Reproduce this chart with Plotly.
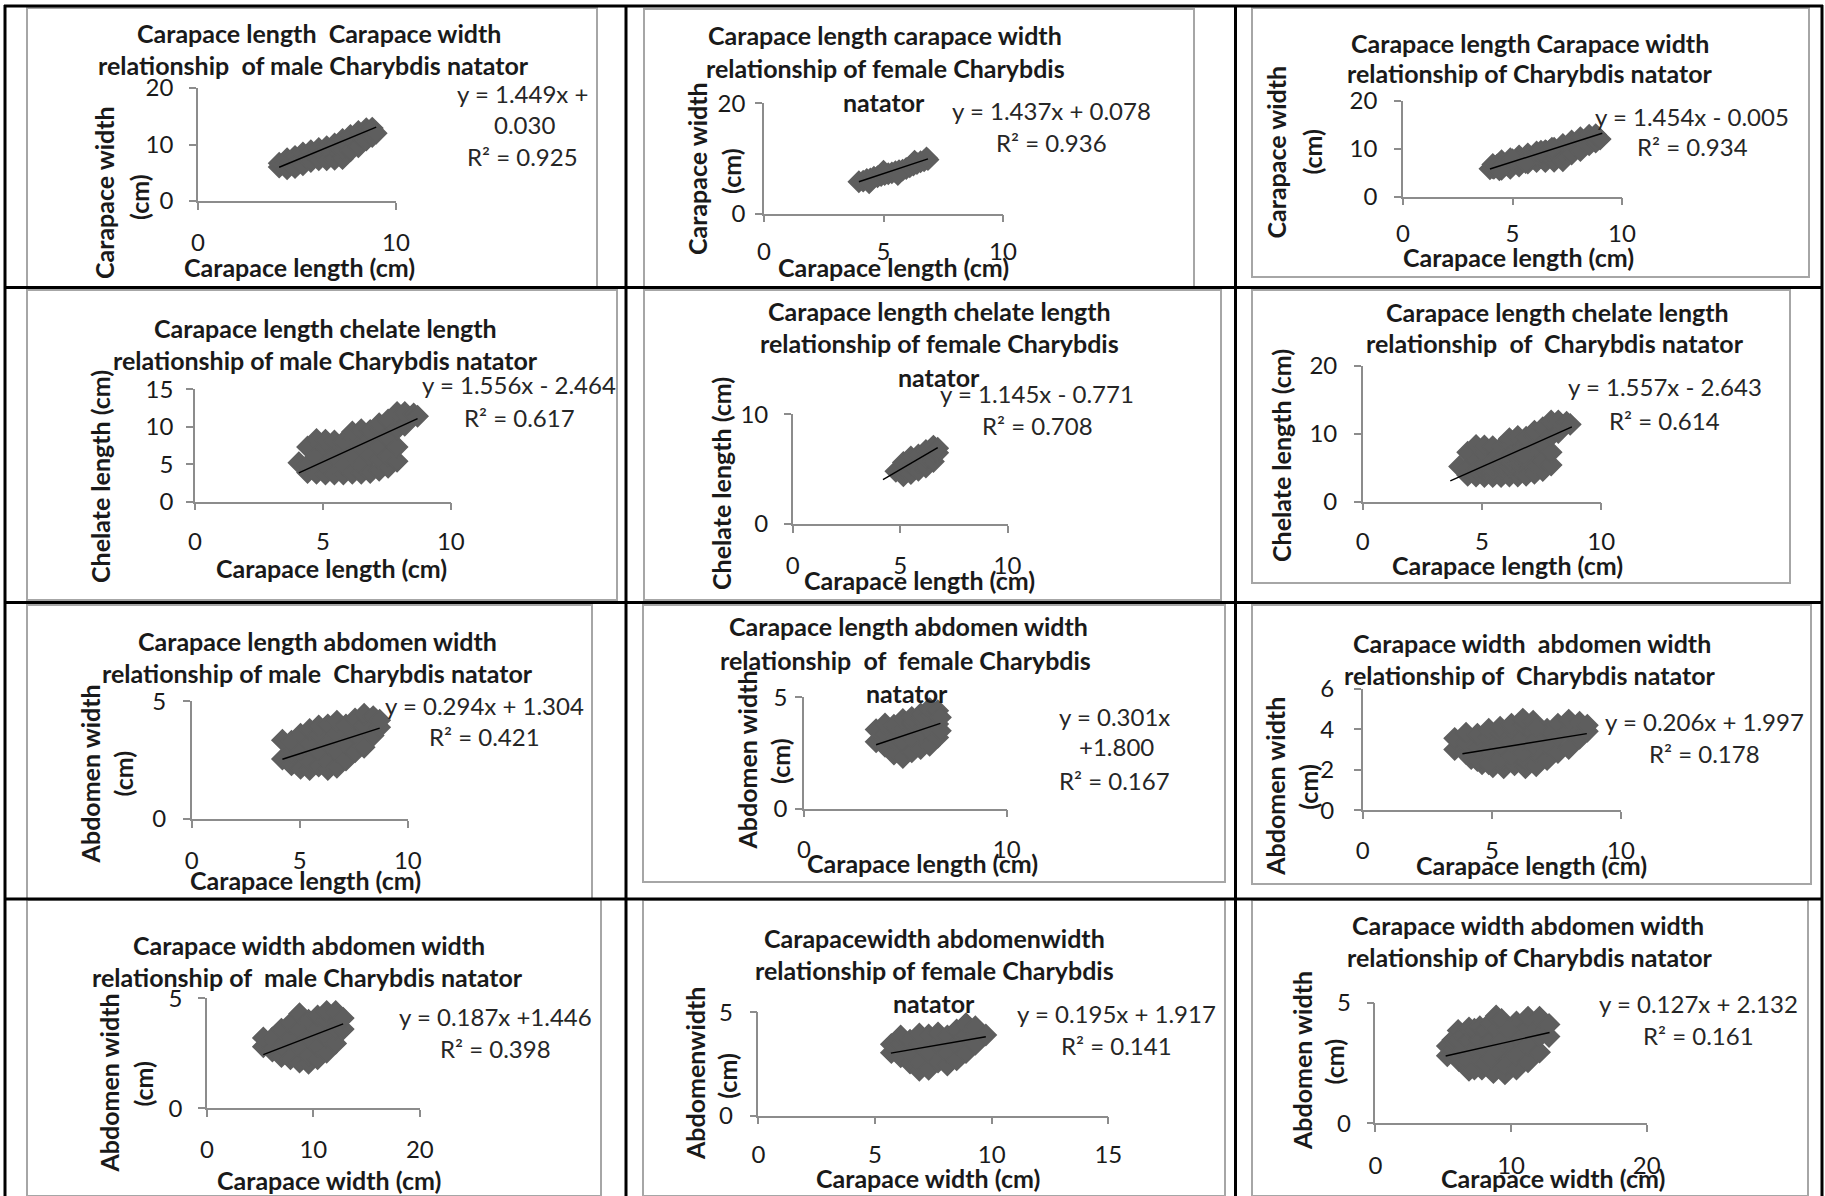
import plotly.graph_objects as go

W, H = 1825, 1196

# ---------------- data (cm), read from the scatter clouds ----------------
# male: carapace length vs carapace width
male_cl_cw_x = [4.1, 4.1, 4.3, 4.5, 4.5, 4.7, 4.9, 4.9, 5.1, 5.3, 5.3, 5.5, 5.7, 5.7, 5.9, 6.1, 6.1, 6.3, 6.5, 6.5,
                6.7, 6.9, 6.9, 7.1, 7.3, 7.3, 7.3, 7.5, 7.7, 7.7, 7.9, 8.1, 8.1, 8.3, 8.5, 8.5, 8.7, 8.8, 8.8, 9.0]
male_cl_cw_y = [6.0, 6.7, 6.6, 5.7, 7.5, 6.7, 5.9, 7.9, 7.1, 6.4, 8.5, 7.6, 7.0, 8.9, 8.1, 7.3, 9.3, 8.4, 7.3, 9.6,
                8.8, 7.4, 10.1, 8.5, 7.5, 9.0, 10.9, 10.0, 8.9, 11.6, 10.4, 9.6, 12.3, 11.1, 10.8, 12.8, 12.0, 11.4, 12.9, 12.0]
# female: carapace length vs carapace width
female_cl_cw_x = [3.97, 4.15, 4.3, 4.45, 4.6, 4.75, 4.9, 5.05, 5.2, 5.35, 5.5, 5.65, 5.8, 5.95, 6.1, 6.25, 6.4, 6.55,
                  6.7, 6.86, 4.4, 5.0, 5.6, 6.3, 6.8]
female_cl_cw_y = [5.8, 5.9, 6.2, 6.3, 6.6, 6.7, 6.9, 7.1, 7.25, 7.4, 7.6, 7.8, 7.9, 8.2, 8.5, 8.8, 9.1, 9.4,
                  9.6, 9.8, 5.6, 7.7, 7.1, 9.5, 10.1]
# male: carapace length vs chelate length
male_cl_chl_x = [4.06, 4.4, 4.4, 4.4, 4.75, 4.75, 4.75, 5.1, 5.1, 5.1, 5.1, 5.45, 5.45, 5.45, 5.8, 5.8, 5.8, 5.8,
                 6.15, 6.15, 6.15, 6.15, 6.5, 6.5, 6.5, 6.5, 6.85, 6.85, 6.85, 6.85, 7.2, 7.2, 7.2, 7.2, 7.2,
                 7.55, 7.55, 7.55, 7.55, 7.9, 7.9, 7.9, 7.9, 8.2, 8.2, 8.55, 8.7]
male_cl_chl_y = [5.2, 3.9, 4.9, 7.3, 3.8, 6.1, 8.3, 3.7, 4.9, 7.3, 8.2, 3.7, 6.1, 8.1, 3.7, 4.9, 7.3, 8.0,
                 3.8, 6.1, 8.5, 9.3, 3.8, 4.9, 7.3, 9.6, 3.9, 6.1, 8.5, 9.5, 4.2, 5.7, 7.3, 9.7, 10.4,
                 4.6, 6.1, 8.5, 10.9, 5.4, 7.3, 9.7, 11.9, 10.2, 11.9, 11.7, 11.4]
# female: carapace length vs chelate length
female_cl_chl_x = [4.8, 5.15, 5.15, 5.15, 5.5, 5.5, 5.5, 5.85, 5.85, 5.85, 6.2, 6.2, 6.2, 6.55, 6.55, 6.55, 6.75, 6.75]
female_cl_chl_y = [4.8, 4.4, 5.0, 5.6, 4.6, 5.4, 6.1, 4.9, 5.6, 6.3, 5.2, 5.9, 6.7, 5.7, 6.4, 7.1, 6.5, 6.9]
# male: carapace length vs abdomen width
male_cl_aw_x = [4.2, 4.2, 4.62, 4.62, 4.62, 5.04, 5.04, 5.04, 5.46, 5.46, 5.46, 5.46, 5.88, 5.88, 5.88, 5.88,
                6.3, 6.3, 6.3, 6.3, 6.72, 6.72, 6.72, 6.72, 7.14, 7.14, 7.14, 7.56, 7.56, 7.56,
                7.98, 7.98, 7.98, 8.4, 8.4, 8.7, 8.7]
male_cl_aw_y = [2.55, 3.35, 2.3, 2.8, 3.3, 2.15, 2.85, 3.6, 2.1, 2.45, 3.2, 3.8, 2.25, 2.85, 3.6, 3.95,
                2.1, 2.45, 3.2, 4.0, 2.2, 2.85, 3.6, 4.15, 2.5, 3.2, 4.0, 2.85, 3.6, 4.25,
                3.05, 3.95, 4.45, 3.55, 4.35, 3.9, 4.2]
# female: carapace length vs abdomen width
female_cl_aw_x = [3.56, 3.56, 4.0, 4.0, 4.0, 4.44, 4.44, 4.44, 4.88, 4.88, 4.88, 4.88, 5.32, 5.32, 5.32, 5.32,
                  5.76, 5.76, 5.76, 5.76, 6.2, 6.2, 6.2, 6.2, 6.6, 6.6, 6.6, 6.73, 6.73]
female_cl_aw_y = [3.0, 3.55, 2.8, 3.35, 3.8, 2.45, 3.1, 3.75, 2.3, 3.0, 3.6, 4.0, 2.55, 3.2, 3.85, 4.1,
                  2.7, 3.4, 4.05, 4.25, 2.85, 3.5, 4.2, 4.5, 3.2, 3.8, 4.4, 3.5, 4.1]
# male: carapace width vs abdomen width
male_cw_aw_x = [5.3, 5.3, 6.15, 6.15, 7.0, 7.0, 7.0, 7.85, 7.85, 7.85, 8.7, 8.7, 8.7, 8.7, 9.55, 9.55, 9.55, 9.55,
                10.4, 10.4, 10.4, 10.4, 11.25, 11.25, 11.25, 11.25, 12.1, 12.1, 12.1, 12.8, 12.8]
male_cw_aw_y = [2.8, 3.2, 2.6, 3.2, 2.35, 2.8, 3.6, 2.25, 3.2, 3.85, 2.1, 2.8, 3.6, 4.3, 2.05, 2.4, 3.2, 4.0,
                2.25, 2.8, 3.6, 4.2, 2.55, 3.2, 4.0, 4.4, 2.95, 3.6, 4.4, 3.6, 4.1]
# female: carapace width vs abdomen width
female_cw_aw_x = [5.7, 5.7, 6.1, 6.1, 6.1, 6.5, 6.5, 6.5, 6.9, 6.9, 6.9, 6.9, 7.3, 7.3, 7.3, 7.7, 7.7, 7.7,
                  8.1, 8.1, 8.1, 8.5, 8.5, 8.5, 8.9, 8.9, 8.9, 9.3, 9.3, 9.75]
female_cw_aw_y = [3.05, 3.45, 2.85, 3.45, 3.85, 2.55, 3.05, 3.65, 2.2, 2.6, 3.45, 3.95, 2.25, 3.05, 3.9, 2.6, 3.45, 4.0,
                  2.45, 3.05, 3.85, 2.7, 3.45, 4.15, 3.05, 3.9, 4.45, 3.45, 4.3, 3.9]

# pooled (male + female) samples
all_cl_cw_x = male_cl_cw_x + female_cl_cw_x
all_cl_cw_y = male_cl_cw_y + female_cl_cw_y
all_cl_chl_x = male_cl_chl_x + female_cl_chl_x
all_cl_chl_y = male_cl_chl_y + female_cl_chl_y
all_cl_aw_x = male_cl_aw_x + female_cl_aw_x
all_cl_aw_y = male_cl_aw_y + female_cl_aw_y
all_cw_aw_x = male_cw_aw_x + female_cw_aw_x
all_cw_aw_y = male_cw_aw_y + female_cw_aw_y

# linear trend lines: (slope, intercept) and x-extent
trend_coef = [(1.449, 0.030), (1.437, 0.078), (1.454, -0.005),
              (1.556, -2.464), (1.145, -0.771), (1.557, -2.643),
              (0.294, 1.304), (0.301, 1.800), (0.206, 1.997),
              (0.187, 1.446), (0.195, 1.917), (0.127, 2.132)]
trend_x = [[4.1, 9.0], [3.97, 6.86], [3.97, 9.1],
           [4.06, 8.7], [4.2, 6.75], [3.67, 8.77],
           [4.2, 8.7], [3.56, 6.73], [3.86, 8.68],
           [5.3, 12.8], [5.68, 9.75], [5.18, 12.84]]

series = [(male_cl_cw_x, male_cl_cw_y), (female_cl_cw_x, female_cl_cw_y), (all_cl_cw_x, all_cl_cw_y),
          (male_cl_chl_x, male_cl_chl_y), (female_cl_chl_x, female_cl_chl_y), (all_cl_chl_x, all_cl_chl_y),
          (male_cl_aw_x, male_cl_aw_y), (female_cl_aw_x, female_cl_aw_y), (all_cl_aw_x, all_cl_aw_y),
          (male_cw_aw_x, male_cw_aw_y), (female_cw_aw_x, female_cw_aw_y), (all_cw_aw_x, all_cw_aw_y)]

x_ranges = [[0, 10], [0, 10], [0, 10], [0, 10], [0, 10], [0, 10],
            [0, 10], [0, 10], [0, 10], [0, 20], [0, 15], [0, 20]]
y_ranges = [[0, 20], [0, 20], [0, 20], [0, 15], [0, 10], [0, 20],
            [0, 5], [0, 5], [0, 6], [0, 5], [0, 5], [0, 5]]
x_dticks = [10, 5, 5, 5, 5, 5, 5, 10, 5, 10, 5, 10]
y_dticks = [10, 20, 10, 5, 10, 10, 5, 5, 2, 5, 5, 5]

titles = [
    ["Carapace length  Carapace width", "relationship  of male Charybdis natator"],
    ["Carapace length carapace width", "relationship of female Charybdis", "natator"],
    ["Carapace length Carapace width", "relationship of Charybdis natator"],
    ["Carapace length chelate length", "relationship of male Charybdis natator"],
    ["Carapace length chelate length", "relationship of female Charybdis", "natator"],
    ["Carapace length chelate length", "relationship  of  Charybdis natator"],
    ["Carapace length abdomen width", "relationship of male  Charybdis natator"],
    ["Carapace length abdomen width", "relationship  of  female Charybdis", "natator"],
    ["Carapace width  abdomen width", "relationship of  Charybdis natator"],
    ["Carapace width abdomen width", "relationship of  male Charybdis natator"],
    ["Carapacewidth abdomenwidth", "relationship of female Charybdis", "natator"],
    ["Carapace width abdomen width", "relationship of Charybdis natator"],
]
x_titles = ["Carapace length (cm)"] * 9 + ["Carapace width (cm)"] * 3
y_titles = [["Carapace width", "(cm)"]] * 3 + [["Chelate length (cm)"]] * 3 + \
           [["Abdomen width", "(cm)"]] * 4 + [["Abdomenwidth", "(cm)"], ["Abdomen width", "(cm)"]]
equations = [
    ["y = 1.449x +", "0.030", "R² = 0.925"],
    ["y = 1.437x + 0.078", "R² = 0.936"],
    ["y = 1.454x - 0.005", "R² = 0.934"],
    ["y = 1.556x - 2.464", "R² = 0.617"],
    ["y = 1.145x - 0.771", "R² = 0.708"],
    ["y = 1.557x - 2.643", "R² = 0.614"],
    ["y = 0.294x + 1.304", "R² = 0.421"],
    ["y = 0.301x", "+1.800", "R² = 0.167"],
    ["y = 0.206x + 1.997", "R² = 0.178"],
    ["y = 0.187x +1.446", "R² = 0.398"],
    ["y = 0.195x + 1.917", "R² = 0.141"],
    ["y = 0.127x + 2.132", "R² = 0.161"],
]

# ---------------- layout geometry (pixels) ----------------
geom = [
    dict(frame=(27, 8, 597, 287), xpx=(198, 396), ypx=(201, 88), xoff=44, ygap=23,
         title=[(319, 33), (313, 65)], xlab=(299, 267), ylab=[(104, 193), (139, 197)],
         eq=[(522, 93), (524, 124), (522, 157)]),
    dict(frame=(644, 9, 1194, 287), xpx=(764, 1003), ypx=(213.7, 103.3), xoff=41, ygap=17,
         title=[(885, 35), (885, 68), (884, 102)], xlab=(893, 267), ylab=[(697, 169), (731, 171)],
         eq=[(1051, 110), (1051, 142)]),
    dict(frame=(1252, 8, 1809, 277), xpx=(1403, 1622), ypx=(196.7, 100.7), xoff=40, ygap=24,
         title=[(1530, 43), (1530, 73)], xlab=(1518, 257), ylab=[(1275.5, 152), (1311.6, 152)],
         eq=[(1692, 117), (1692, 147)]),
    dict(frame=(27, 290, 617, 600), xpx=(195, 450.8), ypx=(501.7, 389.3), xoff=43, ygap=20,
         title=[(325, 328), (325, 360)], xlab=(331.5, 568), ylab=[(100, 477)],
         eq=[(519, 384), (519, 417)]),
    dict(frame=(644, 290, 1221, 600), xpx=(792.8, 1007.5), ypx=(524, 414.3), xoff=44, ygap=23,
         title=[(939.5, 311), (939.5, 343), (939.5, 377)], xlab=(919, 580), ylab=[(721, 484)],
         eq=[(1037, 393), (1037, 425)]),
    dict(frame=(1252, 290, 1790, 583), xpx=(1362.8, 1601.2), ypx=(501.7, 366), xoff=43, ygap=24,
         title=[(1557, 312), (1555, 343)], xlab=(1507.5, 565), ylab=[(1281, 456)],
         eq=[(1664.5, 387), (1664.5, 420)]),
    dict(frame=(27, 605, 592, 900), xpx=(191.6, 407.8), ypx=(819, 701.3), xoff=44, ygap=24,
         title=[(317.4, 641), (317.4, 673)], xlab=(305, 880), ylab=[(90.4, 774), (122.5, 774)],
         eq=[(484, 705), (484, 736)]),
    dict(frame=(643, 605, 1225, 882), xpx=(803.9, 1006.7), ypx=(808.7, 697.3), xoff=44, ygap=15,
         title=[(908.6, 626), (905.5, 660), (906.7, 693)], xlab=(922.5, 863), ylab=[(746.5, 760), (780, 761)],
         eq=[(1114, 716), (1116, 746), (1114, 780)]),
    dict(frame=(1252, 605, 1811, 884), xpx=(1362.8, 1620.9), ypx=(810.3, 688.7), xoff=43, ygap=27,
         title=[(1531.7, 643), (1529.8, 675)], xlab=(1531.7, 864.7), ylab=[(1274.8, 786), (1307.8, 787)],
         eq=[(1704.4, 721.3), (1704, 753)]),
    dict(frame=(27, 900, 601, 1196), xpx=(206.9, 419.8), ypx=(1108.3, 998.3), xoff=44, ygap=23,
         title=[(309.4, 945), (307.4, 977)], xlab=(329.4, 1180), ylab=[(108.5, 1083), (142.6, 1084)],
         eq=[(495, 1016.7), (495, 1048)]),
    dict(frame=(643, 900, 1225, 1196), xpx=(758.4, 1108.3), ypx=(1115.7, 1012.3), xoff=42, ygap=24,
         title=[(934.4, 938), (934.4, 970), (934.4, 1003)], xlab=(928.4, 1178.3), ylab=[(695, 1074), (726.8, 1076)],
         eq=[(1116, 1013.3), (1116, 1045)]),
    dict(frame=(1252, 900, 1808, 1196), xpx=(1375.4, 1646.7), ypx=(1123.3, 1002.7), xoff=45, ygap=23,
         title=[(1527.9, 925), (1529.8, 956.7)], xlab=(1553, 1177.7), ylab=[(1302, 1061), (1334.4, 1061)],
         eq=[(1698.7, 1003.3), (1698.7, 1035)]),
]

FONT = "Lato, 'Open Sans', Arial, sans-serif"
FS = 24        # regular text
FSB = 25       # bold text
TEXT = "#1a1a1a"
AXIS = "#8c8c8c"
MARK = "#5e5e5e"


def px(x):
    return x / W


def py(y):
    return 1 - y / H


fig = go.Figure()
annotations = []
shapes = []
layout_axes = {}

for i in range(12):
    n = i + 1
    g = geom[i]
    xs, ys = series[i]
    xa = "x" if n == 1 else f"x{n}"
    ya = "y" if n == 1 else f"y{n}"
    fig.add_trace(go.Scatter(x=xs, y=ys, mode="markers", xaxis=xa, yaxis=ya,
                             marker=dict(symbol="diamond", size=16, color=MARK,
                                         line=dict(width=1.5, color=MARK)),
                             showlegend=False, hoverinfo="skip"))
    a, b = trend_coef[i]
    tx = trend_x[i]
    fig.add_trace(go.Scatter(x=tx, y=[a * v + b for v in tx], mode="lines", xaxis=xa, yaxis=ya,
                             line=dict(color="black", width=1.4), showlegend=False, hoverinfo="skip"))

    common = dict(showline=True, linecolor=AXIS, linewidth=1.5, ticks="outside", ticklen=7,
                  tickcolor=AXIS, tickwidth=1.5, showgrid=False, zeroline=False, tick0=0,
                  automargin=False,
                  tickfont=dict(family=FONT, size=FS, color=TEXT), fixedrange=True)
    x0, x1 = g["xpx"]
    yb, yt = g["ypx"]
    layout_axes["xaxis" if n == 1 else f"xaxis{n}"] = dict(
        domain=[px(x0), px(x1)], range=x_ranges[i], dtick=x_dticks[i], anchor=ya,
        ticklabelstandoff=g["xoff"] - 32, **common)
    layout_axes["yaxis" if n == 1 else f"yaxis{n}"] = dict(
        domain=[py(yb), py(yt)], range=y_ranges[i], dtick=y_dticks[i], anchor=xa,
        ticklabelstandoff=g["ygap"] - 12, **common)

    # chart frame
    fx0, fy0, fx1, fy1 = g["frame"]
    shapes.append(dict(type="rect", xref="paper", yref="paper", x0=px(fx0), x1=px(fx1),
                       y0=py(fy1), y1=py(fy0), line=dict(color="#a6a6a6", width=2), layer="below"))

    for txt, (cx, cy) in zip(titles[i], g["title"]):
        annotations.append(dict(text=f"<b>{txt}</b>", x=px(cx), y=py(cy), xref="paper", yref="paper",
                                xanchor="center", yanchor="middle", showarrow=False,
                                font=dict(family=FONT, size=FSB, color=TEXT)))
    cx, cy = g["xlab"]
    annotations.append(dict(text=f"<b>{x_titles[i]}</b>", x=px(cx), y=py(cy), xref="paper", yref="paper",
                            xanchor="center", yanchor="middle", showarrow=False,
                            font=dict(family=FONT, size=FSB, color=TEXT)))
    for txt, (cx, cy) in zip(y_titles[i], g["ylab"]):
        annotations.append(dict(text=f"<b>{txt}</b>", x=px(cx), y=py(cy), xref="paper", yref="paper",
                                xanchor="center", yanchor="middle", showarrow=False, textangle=-90,
                                font=dict(family=FONT, size=FSB, color=TEXT)))
    for txt, (cx, cy) in zip(equations[i], g["eq"]):
        annotations.append(dict(text=txt, x=px(cx), y=py(cy), xref="paper", yref="paper",
                                xanchor="center", yanchor="middle", showarrow=False,
                                font=dict(family=FONT, size=FS, color="#262626")))

# table grid lines
for y in [6, 287.5, 602.5, 899]:
    shapes.append(dict(type="line", xref="paper", yref="paper", x0=px(4), x1=px(1823),
                       y0=py(y), y1=py(y), line=dict(color="black", width=3)))
for x in [5, 626, 1235.5, 1822]:
    shapes.append(dict(type="line", xref="paper", yref="paper", x0=px(x), x1=px(x),
                       y0=py(5), y1=py(1196), line=dict(color="black", width=3)))

fig.update_layout(width=W, height=H, autosize=False, margin=dict(l=0, r=0, t=0, b=0, pad=0, autoexpand=False),
                  paper_bgcolor="white", plot_bgcolor="rgba(0,0,0,0)", showlegend=False,
                  annotations=annotations, shapes=shapes, **layout_axes)

fig.write_html("out.html", config={"displayModeBar": False},
               post_script="document.body.style.margin='0';")
